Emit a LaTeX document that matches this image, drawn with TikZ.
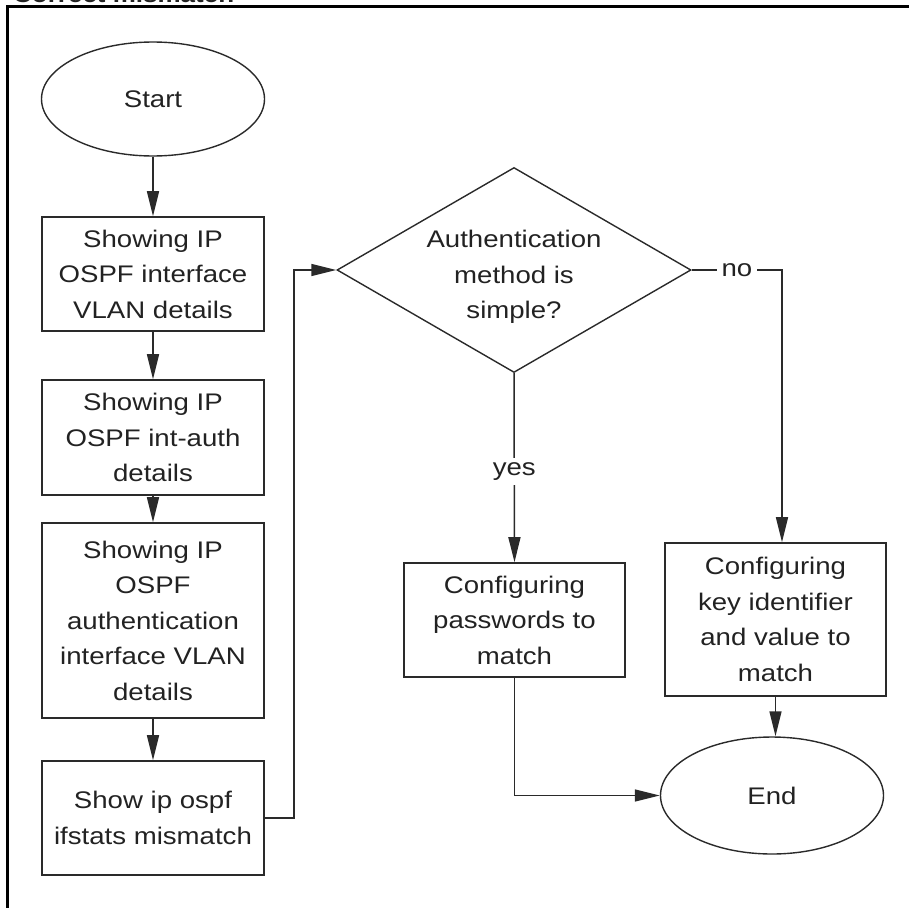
\documentclass[tikz,border=0pt]{standalone}
\usepackage{fontspec}
\setmainfont[FakeStretch=1.15]{Liberation Sans}
\usetikzlibrary{shapes.geometric,arrows.meta}
\definecolor{ln}{HTML}{2a2a2a}
\definecolor{tx}{HTML}{222222}
\begin{document}
\begin{tikzpicture}[x=1pt,y=-1pt,
  txt/.style={font=\fontsize{24}{35.5}\selectfont, text=tx, align=center},
  box/.style={txt, draw=ln, line width=1.6pt, rectangle, inner sep=0pt, minimum width=222pt},
  term/.style={txt, draw=ln, line width=1.4pt, ellipse, inner sep=0pt, minimum width=223pt},
  decision/.style={draw=ln, line width=1.4pt, diamond, inner sep=0pt, minimum width=354pt, minimum height=205pt},
  flow/.style={draw=ln, line width=1.5pt, -{Triangle[length=25pt,width=12pt]}},
  lab/.style={txt, fill=white, inner sep=5pt},
  frame/.style={draw=black, line width=3pt},
  title/.style={font=\fontsize{22.6}{26}\selectfont\bfseries, text=tx, anchor=base west, inner sep=0pt}]
\useasboundingbox (0,0) rectangle (909,907);
\begin{scope}
  \clip (0,0) rectangle (909,907);
  \node[title] (ttl) at (13,3) {Correct mismatch};
  \draw[frame] (7.5,910) -- (7.5,6.5) -- (912,6.5);
\end{scope}

\node[term, minimum height=114pt] (start) at (153,99) {Start};
\node[box, minimum height=114pt] (b1) at (153,274) {Showing IP\\OSPF interface\\VLAN details};
\node[box, minimum height=115pt] (b2) at (153,437.5) {Showing IP\\OSPF int-auth\\details};
\node[box, minimum height=195pt] (b3) at (153,620.5) {Showing IP\\OSPF\\authentication\\interface VLAN\\details};
\node[box, minimum height=114pt] (b4) at (153,818) {Show ip ospf\\ifstats mismatch};
\node[decision] (d) at (514,270) {};
\node[txt] (dq) at (514,277) {Authentication\\method is\\simple?};
\node[box, minimum width=221pt, minimum height=114pt] (pw) at (514.5,620) {Configuring\\passwords to\\match};
\node[box, minimum width=221pt, minimum height=153pt] (key) at (775.5,619.5) {Configuring\\key identifier\\and value to\\match};
\node[term, minimum height=117pt] (end) at (772,795.5) {End};
\coordinate (kin) at ([xshift=6.5pt]key.north);

\draw[flow] (start.south) -- (b1.north);
\draw[flow] (b1.south) -- (b2.north);
\draw[flow] (b2.south) -- (b3.north);
\draw[flow] (b3.south) -- (b4.north);
\draw[flow] (b4.east) -- ++(29,0) |- (d.west);
\draw[flow] (d.south) -- node[lab, pos=0.52] (yes) {yes} (pw.north);
\draw[flow] (d.east) -- node[lab] (no) {no} (d.east -| kin) -- (kin);
\draw[flow] (key.south) -- (key.south |- end.north);
\draw[flow] (pw.south) |- (end.west);
\end{tikzpicture}
\end{document}
